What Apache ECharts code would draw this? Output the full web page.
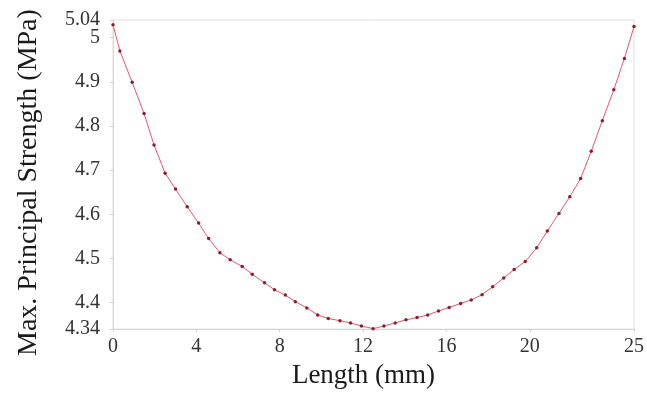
<!DOCTYPE html>
<html>
<head>
<meta charset="utf-8">
<script src="https://cdn.jsdelivr.net/npm/echarts@6/dist/echarts.min.js"></script>
<style>
  html, body { margin: 0; padding: 0; background: #fff; }
  #chart { width: 647px; height: 394px; }
</style>
</head>
<body>
<div id="chart"></div>
<script>
// length along the specimen (mm)
var lengths = [0, 0.33, 0.92, 1.49, 1.97, 2.5, 3.0, 3.56, 4.11, 4.59,
  5.13, 5.62, 6.2, 6.68, 7.27, 7.75, 8.27, 8.75, 9.3, 9.82,
  10.33, 10.89, 11.4, 11.92, 12.48, 13.0, 13.54, 14.06, 14.59, 15.1,
  15.62, 16.13, 16.68, 17.19, 17.71, 18.22, 18.75, 19.25, 19.78, 20.33,
  20.84, 21.4, 21.92, 22.44, 22.95, 23.48, 24.03, 24.54, 25.0];

// max. principal strength (MPa)
var strength = [5.029, 4.970, 4.899, 4.828, 4.757, 4.693, 4.657, 4.617, 4.580, 4.545,
  4.513, 4.497, 4.482, 4.464, 4.445, 4.429, 4.417, 4.402, 4.388, 4.372,
  4.364, 4.359, 4.354, 4.347, 4.341, 4.347, 4.354, 4.361, 4.366, 4.372,
  4.381, 4.389, 4.398, 4.406, 4.418, 4.436, 4.456, 4.475, 4.493, 4.524,
  4.562, 4.602, 4.640, 4.681, 4.743, 4.812, 4.882, 4.953, 5.025];

var xTicks = [0, 4, 8, 12, 16, 20, 25];
var yTicks = [4.34, 4.4, 4.5, 4.6, 4.7, 4.8, 4.9, 5];
var yTopTick = [5.04]; // sits close to "5", so it goes on its own axis

var font = "Liberation Serif";
var chart = echarts.init(document.getElementById("chart"));

var yLabel = { margin: 13, fontFamily: font, fontSize: 20, color: "#333" };

var option = {
  animation: false,
  grid: {
    left: 113, right: 9, top: 20, bottom: 57,
    show: true, borderColor: "#dedede", borderWidth: 1
  },
  xAxis: {
    type: "value",
    min: 0, max: 25,
    name: "Length (mm)",
    nameLocation: "middle",
    nameGap: 27,
    nameTextStyle: { fontFamily: font, fontSize: 27, color: "#1a1a1a", padding: [0, 20, 0, 0] },
    axisLine: { lineStyle: { color: "#d6d6d6" } },
    axisTick: { show: true, length: 3, customValues: xTicks, lineStyle: { color: "#cfcfcf" } },
    axisLabel: { customValues: xTicks, margin: 8, fontFamily: font, fontSize: 20, color: "#333" },
    splitLine: { show: false }
  },
  yAxis: [{
    type: "value",
    min: 4.34, max: 5.04,
    name: "Max. Principal Strength (MPa)",
    nameLocation: "middle",
    nameRotate: 90,
    nameGap: 70,
    nameTextStyle: { fontFamily: font, fontSize: 28, color: "#1a1a1a", padding: [0, 16, 0, 0] },
    axisLine: { show: true, lineStyle: { color: "#d6d6d6" } },
    axisTick: { show: true, length: 3, customValues: yTicks, lineStyle: { color: "#cfcfcf" } },
    axisLabel: Object.assign({ customValues: yTicks }, yLabel),
    splitLine: { show: false }
  }, {
    type: "value",
    position: "left",
    min: 4.34, max: 5.04,
    axisLine: { show: false },
    axisTick: { show: true, length: 3, customValues: yTopTick, lineStyle: { color: "#cfcfcf" } },
    axisLabel: Object.assign({ customValues: yTopTick }, yLabel),
    splitLine: { show: false }
  }],
  series: [{
    type: "line",
    clip: false,
    yAxisIndex: 0,
    data: lengths.map(function (x, i) { return [x, strength[i]]; }),
    symbol: "circle",
    symbolSize: 3.5,
    lineStyle: { color: "#e4586a", width: 1 },
    itemStyle: { color: "#8c1f2e" }
  }]
};

chart.setOption(option);
</script>
</body>
</html>
